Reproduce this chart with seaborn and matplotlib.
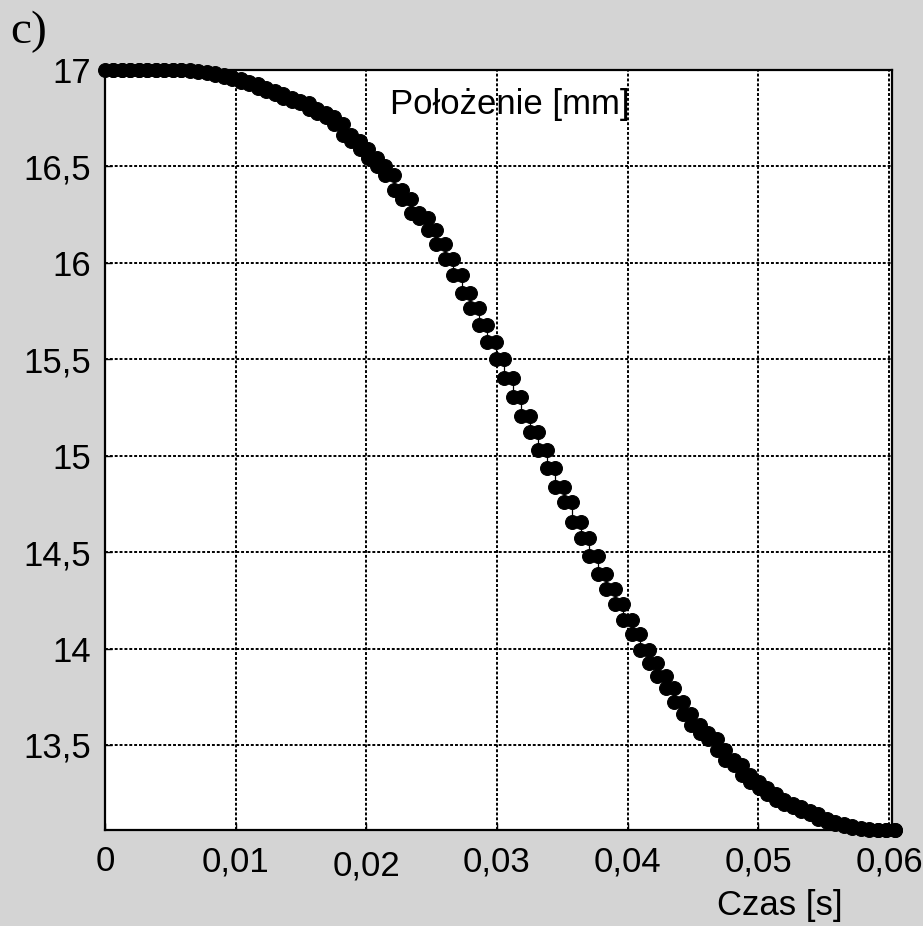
import numpy as np
import pandas as pd
import matplotlib
matplotlib.use("Agg")
import matplotlib.pyplot as plt
import seaborn as sns

# sample times [s] and position [mm]
czas = [0.00000, 0.00065, 0.00130, 0.00195, 0.00260, 0.00325, 0.00390, 0.00455,
        0.00520, 0.00585, 0.00650, 0.00715, 0.00780, 0.00845, 0.00910, 0.00975,
        0.01040, 0.01105, 0.01170, 0.01235, 0.01300, 0.01365, 0.01430, 0.01495,
        0.01560, 0.01625, 0.01690, 0.01755, 0.01820, 0.01885, 0.01950, 0.02015,
        0.02080, 0.02145, 0.02210, 0.02275, 0.02340, 0.02405, 0.02470, 0.02535,
        0.02600, 0.02665, 0.02730, 0.02795, 0.02860, 0.02925, 0.02990, 0.03055,
        0.03120, 0.03185, 0.03250, 0.03315, 0.03380, 0.03445, 0.03510, 0.03575,
        0.03640, 0.03705, 0.03770, 0.03835, 0.03900, 0.03965, 0.04030, 0.04095,
        0.04160, 0.04225, 0.04290, 0.04355, 0.04420, 0.04485, 0.04550, 0.04615,
        0.04680, 0.04745, 0.04810, 0.04875, 0.04940, 0.05005, 0.05070, 0.05135,
        0.05200, 0.05265, 0.05330, 0.05395, 0.05460, 0.05525, 0.05590, 0.05655,
        0.05720, 0.05785, 0.05850, 0.05915, 0.05980, 0.06045]
polozenie = [17.00, 17.00, 17.00, 17.00, 17.00, 17.00, 17.00, 17.00,
             17.00, 17.00, 16.995, 16.99, 16.985, 16.975, 16.965, 16.955,
             16.94, 16.925, 16.905, 16.89, 16.875, 16.855, 16.84, 16.83,
             16.80, 16.775, 16.755, 16.72, 16.665, 16.63, 16.59, 16.545,
             16.50, 16.455, 16.38, 16.33, 16.26, 16.235, 16.17, 16.10,
             16.02, 15.935, 15.845, 15.765, 15.68, 15.59, 15.50, 15.405,
             15.305, 15.205, 15.125, 15.03, 14.935, 14.84, 14.76, 14.655,
             14.575, 14.48, 14.385, 14.31, 14.23, 14.15, 14.075, 13.99,
             13.925, 13.855, 13.795, 13.725, 13.66, 13.605, 13.56, 13.53,
             13.475, 13.42, 13.395, 13.345, 13.31, 13.275, 13.245, 13.215,
             13.195, 13.18, 13.16, 13.14, 13.115, 13.10, 13.09, 13.08,
             13.07, 13.065, 13.06, 13.06, 13.06, 13.06]

x_ticks = [0, 0.01, 0.02, 0.03, 0.04, 0.05, 0.06]
x_labels = ["0", "0,01", "0,02", "0,03", "0,04", "0,05", "0,06"]
y_ticks = [13.5, 14, 14.5, 15, 15.5, 16, 16.5, 17]
y_labels = ["13,5", "14", "14,5", "15", "15,5", "16", "16,5", "17"]

sns.set_theme(style="white")
plt.rcParams["font.family"] = ["Liberation Sans", "DejaVu Sans"]

# staircase vertices: every sample is held until the next one
st_x, st_y = [czas[0]], [polozenie[0]]
for i in range(1, len(czas)):
    st_x += [czas[i], czas[i]]
    st_y += [polozenie[i - 1], polozenie[i]]
df = pd.DataFrame({"t": st_x, "y": st_y})

fig = plt.figure(figsize=(9.23, 9.26), dpi=100, facecolor="#d4d4d4")
ax = fig.add_axes([105 / 923, 1 - 830 / 926, 787 / 923, 760 / 926])
ax.set_facecolor("white")

sns.lineplot(data=df, x="t", y="y", ax=ax, estimator=None, sort=False,
             color="black", linewidth=0.9, marker="o", markersize=10,
             markeredgecolor="black", markerfacecolor="black", clip_on=False,
             zorder=5)

ax.set_xlim(0, 0.06023)
ax.set_ylim(13.059, 17)
ax.set_xticks(x_ticks)
ax.set_xticklabels(x_labels)
ax.set_yticks(y_ticks)
ax.set_yticklabels(y_labels)
ax.set_xlabel("")
ax.set_ylabel("")
ax.tick_params(axis="both", direction="in", length=5, width=1, colors="black",
               labelsize=25, bottom=True, left=True)
ax.tick_params(axis="x", pad=11)
ax.tick_params(axis="y", pad=10)
for lab in ax.get_xticklabels():
    if lab.get_text() == "0,02":
        lab.set_y(-0.005)
ax.grid(True, color="black", linestyle=(0, (1.5, 1.0)), linewidth=1.4)
for s in ax.spines.values():
    s.set_color("black")
    s.set_linewidth(1.6)
    s.set_visible(True)

ax.text(0.515, 0.954, "Położenie [mm]", transform=ax.transAxes, fontsize=25,
        ha="center", va="center", color="black")
fig.text(843 / 923, 1 - 906 / 926, "Czas [s]", fontsize=25, ha="right",
         va="center", color="black")
fig.text(10 / 923, 1 - 32 / 926, "c)", fontsize=34, ha="left", va="center",
         family=["Liberation Serif", "DejaVu Serif"], color="black")

fig.savefig("out.png", dpi=100, facecolor=fig.get_facecolor())
